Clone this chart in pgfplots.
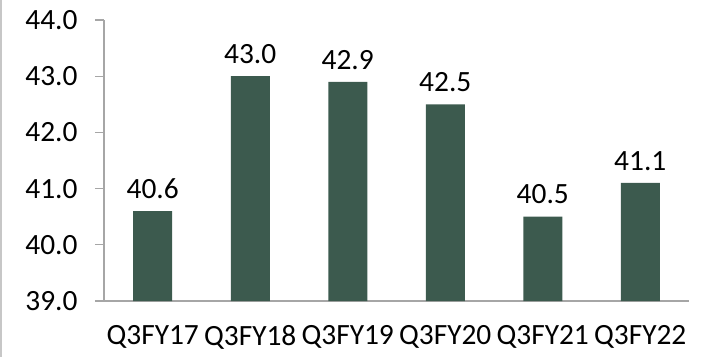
\documentclass[border=0pt]{standalone}
\usepackage{fontspec}
\setmainfont{Carlito}
\usepackage{pgfplots}
\pgfplotsset{compat=1.18}
\definecolor{bargreen}{HTML}{3C5A4E}
\definecolor{axgray}{HTML}{A6A6A6}
\begin{document}
\begin{tikzpicture}
\begin{axis}[
  scale only axis, width=585bp, height=281bp,
  xmin=-0.5, xmax=5.5, ymin=39, ymax=44,
  ytick={39,40,...,44},
  xtick={0,...,5},
  xticklabels={Q3FY17,Q3FY18,Q3FY19,Q3FY20,Q3FY21,Q3FY22},
  x tick style={draw=none},
  extra x ticks={-0.5,0.5,1.5,2.5,3.5,4.5,5.5},
  extra x tick labels={},
  extra x tick style={tick style={draw=axgray, line width=1.2bp}, major tick length=9bp, tick align=outside},
  axis x line*=bottom, axis y line*=left,
  axis line style={draw=axgray, line width=1.2bp, -},
  y tick style={draw=axgray, line width=1.2bp},
  major tick length=9bp, tick align=outside,
  /pgf/number format/assume math mode=true,
  yticklabel={\pgfmathprintnumber[fixed,fixed zerofill,precision=1]{\tick}},
  ticklabel style={font=\fontsize{29.5}{35}\selectfont, text=black},
  yticklabel style={xshift=-14bp},
  xticklabel style={yshift=-12bp},
  enlargelimits=false,
  clip=false,
]
\addplot[ybar, bar width=39bp, fill=bargreen, draw=none,
  nodes near coords={\pgfmathprintnumber[fixed,fixed zerofill,precision=1]{\pgfplotspointmeta}},
  nodes near coords style={font=\fontsize{29.5}{35}\selectfont, text=black, yshift=9bp},
] coordinates {(0,40.6) (1,43.0) (2,42.9) (3,42.5) (4,40.5) (5,41.1)};
\end{axis}
\draw[color=black!22, line width=2.5bp] (-102.75bp,-56bp) -- (-102.75bp,301bp);
\pgfresetboundingbox
\path (-104bp,-56bp) rectangle (602bp,301bp);
\end{tikzpicture}
\end{document}
